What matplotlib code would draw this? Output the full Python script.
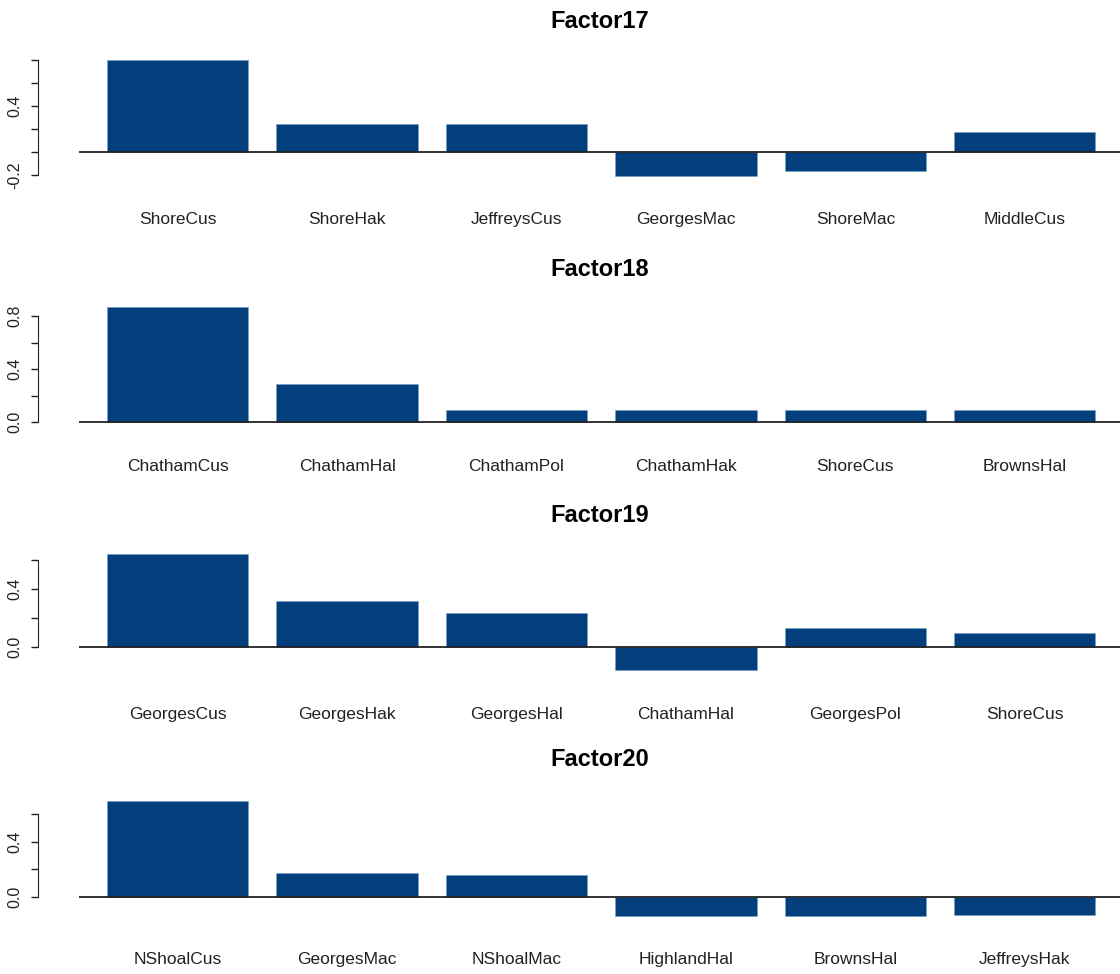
import matplotlib
matplotlib.use("Agg")
import matplotlib.pyplot as plt
import numpy as np

titles = ["Factor17", "Factor18", "Factor19", "Factor20"]
cats17 = ["ShoreCus", "ShoreHak", "JeffreysCus", "GeorgesMac", "ShoreMac", "MiddleCus"]
vals17 = [0.80, 0.245, 0.245, -0.21, -0.165, 0.17]
cats18 = ["ChathamCus", "ChathamHal", "ChathamPol", "ChathamHak", "ShoreCus", "BrownsHal"]
vals18 = [0.87, 0.29, 0.09, 0.09, 0.09, 0.09]
cats19 = ["GeorgesCus", "GeorgesHak", "GeorgesHal", "ChathamHal", "GeorgesPol", "ShoreCus"]
vals19 = [0.64, 0.32, 0.235, -0.16, 0.13, 0.10]
cats20 = ["NShoalCus", "GeorgesMac", "NShoalMac", "HighlandHal", "BrownsHal", "JeffreysHak"]
vals20 = [0.69, 0.17, 0.16, -0.14, -0.14, -0.13]

all_cats = [cats17, cats18, cats19, cats20]
all_vals = [vals17, vals18, vals19, vals20]
axis_range = [(-0.2, 0.8), (0.0, 0.8), (0.0, 0.6), (0.0, 0.6)]
labeled_ticks = [[-0.2, 0.4], [0.0, 0.4, 0.8], [0.0, 0.4], [0.0, 0.4]]

# layout in pixels: (zero line y, pixels per unit, axes top, axes bottom, title y)
layout = [(152, 115.0, 50, 185, 22),
          (422, 132.5, 300, 432, 270),
          (647, 145.0, 548, 680, 515),
          (897, 138.5, 795, 925, 760)]

W, H = 1120, 974
fig = plt.figure(figsize=(W / 100, H / 100), dpi=100)
plt.rcParams['font.family'] = ['Liberation Sans', 'DejaVu Sans']
color = "#023f7c"

ax_left_px = 38
xlo, xhi = -0.289, 7.374

for i in range(4):
    zero, ppu, top, bot, ty = layout[i]
    ax = fig.add_axes([ax_left_px / W, 1 - bot / H, (W - ax_left_px) / W, (bot - top) / H])
    ylo = -(bot - zero) / ppu
    yhi = (zero - top) / ppu
    ax.set_ylim(ylo, yhi)
    ax.set_xlim(xlo, xhi)
    x = 0.7 + 1.2 * np.arange(len(all_cats[i]))
    ax.bar(x, all_vals[i], width=1.0, color=color, edgecolor="#6fa0c8", linewidth=0.4, zorder=2)
    ax.hlines(0, 0.0, xhi, color="#222222", linewidth=1.3, zorder=3)
    for s in ["top", "right", "bottom"]:
        ax.spines[s].set_visible(False)
    lo, hi = axis_range[i]
    ax.spines["left"].set_bounds(lo, hi)
    ax.spines["left"].set_color("#222222")
    ticks = np.round(np.arange(lo, hi + 1e-9, 0.2), 1)
    ax.set_yticks(ticks)
    ax.set_yticklabels([f"{t:.1f}" if any(abs(t - l) < 1e-9 for l in labeled_ticks[i]) else "" for t in ticks],
                       rotation=90, va="center", fontsize=11.5, color="#222222")
    ax.tick_params(axis="y", length=5, width=1, pad=6, colors="#222222")
    ax.set_xticks(x)
    ax.set_xticklabels(all_cats[i], fontsize=12.5, color="#222222")
    ax.tick_params(axis="x", length=0, pad=19.5)
    fig.text(600 / W, 1 - ty / H, titles[i], ha="center", va="center", fontsize=17, fontweight="bold")

fig.savefig("out.png", dpi=100)
